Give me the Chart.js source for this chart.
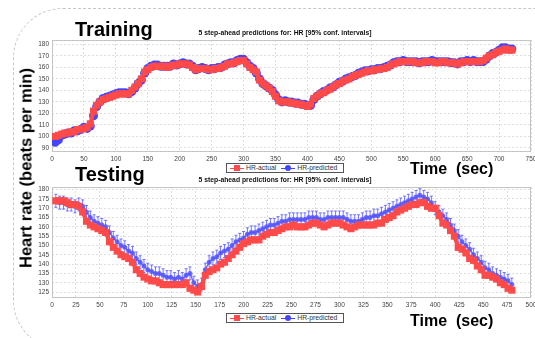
<!DOCTYPE html>
<html>
<head>
<meta charset="utf-8">
<script src="https://cdn.jsdelivr.net/npm/chart.js@4.4.0/dist/chart.umd.min.js"></script>
<style>
  body { margin:0; width:535px; height:338px; overflow:hidden; background:#fff; position:relative;
         font-family:"Liberation Sans", Arial, sans-serif; }
  canvas { position:absolute; left:0; top:0; }
  .frame { position:absolute; left:13px; top:8px; width:580px; height:340px; border:1px dashed #c8c8c8; border-radius:50px; }
  .big { position:absolute; font-weight:bold; font-size:20px; line-height:1; color:#000; white-space:nowrap; }
  .time { position:absolute; left:410px; font-weight:bold; font-size:16px; line-height:1; white-space:nowrap; }
  .ttl { position:absolute; left:135px; width:300px; text-align:center; font-weight:bold; font-size:6.8px; line-height:1; color:#111; }
  .ylab { position:absolute; left:26px; top:168px; transform:translate(-50%,-50%) rotate(-90deg);
          font-weight:bold; font-size:16.5px; white-space:nowrap; }
  .lgd { position:absolute; left:226px; width:116px; height:8px; border:1px solid #555; background:#fff;
         font-size:6.8px; line-height:8px; color:#333; display:flex; align-items:center; }
  .mk { position:relative; display:inline-block; width:14px; height:8px; margin:0 2px 0 3px; }
  .mk .ln { position:absolute; left:0; right:0; top:4px; height:1px; }
  .mk .sq { position:absolute; left:4px; top:1px; width:6px; height:6px; }
  .mk .dot { position:absolute; left:4px; top:1px; width:6px; height:6px; border-radius:50%; }
</style>
</head>
<body>
<div class="frame"></div>
<canvas id="trainChart" width="545" height="338"></canvas>
<canvas id="testChart" width="545" height="338"></canvas>

<div class="big" style="left:75px; top:19px;">Training</div>
<div class="big" style="left:75px; top:164px;">Testing</div>
<div class="ttl" style="top:29.5px;">5 step-ahead predictions for: HR [95% conf. intervals]</div>
<div class="ttl" style="top:176.5px;">5 step-ahead predictions for: HR [95% conf. intervals]</div>
<div class="ylab">Heart rate (beats per min)</div>

<div class="lgd" style="top:163px;">
  <span class="mk"><i class="ln" style="background:#ff4a4a"></i><i class="sq" style="background:#ff4a4a"></i></span>HR-actual
  <span class="mk" style="margin-left:5px"><i class="ln" style="background:#4545ff"></i><i class="dot" style="background:#4545ff"></i></span>HR-predicted
</div>
<div class="lgd" style="top:313px;">
  <span class="mk"><i class="ln" style="background:#ff4a4a"></i><i class="sq" style="background:#ff4a4a"></i></span>HR-actual
  <span class="mk" style="margin-left:5px"><i class="ln" style="background:#4545ff"></i><i class="dot" style="background:#4545ff"></i></span>HR-predicted
</div>
<div class="time" style="top:161px;">Time&nbsp; (sec)</div>
<div class="time" style="top:313px;">Time&nbsp; (sec)</div>

<script>
// training run: one reading every 5 s, starting at t = 5 s
const trainStart = 5, trainStep = 5;
const trainActual = [
  100,101,102,103,103,104,104,106,106,107,
  108,111,122,127,130,132,133,134,135,136,
  137,137,137,137,140,143,146,150,156,158,
  160,161,161,161,161,160,161,162,162,163,
  163,163,162,160,158,159,159,159,158,158,
  159,159,160,161,163,163,164,165,166,166,
  163,160,158,156,149,146,144,142,139,135,
  131,130,130,130,129,129,128,128,127,126,
  128,133,135,137,138,140,141,143,145,146,
  148,149,150,152,153,154,155,156,157,157,
  158,158,159,159,160,162,163,164,165,165,
  165,165,165,164,164,164,165,165,165,164,
  164,165,165,164,164,164,163,164,165,165,
  165,165,165,165,166,168,170,171,173,174,
  175,176,175,175
];
const trainPred = [
  95,97,101,102,103,103,105,105,106,108,
  107,109,118,126,130,133,134,135,136,137,
  138,138,138,137,139,142,146,149,155,159,
  161,162,162,161,161,161,161,163,162,163,
  164,163,163,161,158,159,160,159,158,159,
  159,160,160,162,163,164,164,166,167,167,
  164,161,159,155,150,146,144,142,140,136,
  132,130,131,130,130,129,129,128,128,127,
  127,132,135,137,139,140,142,143,145,147,
  148,150,151,152,153,155,156,157,157,158,
  158,159,159,160,161,162,164,165,165,166,
  165,165,165,165,164,165,165,165,166,165,
  165,165,165,165,164,164,163,165,165,166,
  165,166,165,165,165,167,170,172,173,175,
  177,177,176,176
];

// testing run: one reading every 4 s, starting at t = 4 s
const testStart = 4, testStep = 4;
const testActual = [
  174,174,174,173,172,172,171,168,163,161,
  160,159,158,157,152,149,147,145,144,143,
  141,137,135,133,132,131,131,130,129,129,
  129,129,129,129,130,127,126,125,128,134,
  136,137,138,140,141,143,145,147,149,151,
  152,153,153,153,155,156,157,157,158,159,
  160,160,161,160,160,160,161,162,162,161,
  160,161,162,162,162,161,160,159,160,161,
  161,161,161,161,162,162,164,165,166,168,
  169,170,171,172,172,173,173,171,170,170,
  166,162,161,158,155,149,148,146,143,142,
  139,137,134,134,133,132,130,129,127,126
];
const testPred = [
  174,173,173,172,172,171,172,171,168,165,
  163,162,161,160,157,154,152,150,149,147,
  146,143,141,139,137,136,135,135,134,133,
  133,132,133,132,134,135,130,128,129,137,
  141,143,144,146,147,148,150,152,153,154,
  156,157,157,158,159,160,161,161,162,163,
  163,164,164,164,164,164,165,165,165,164,
  164,165,165,165,165,165,164,163,163,163,
  164,165,165,166,166,167,168,169,170,171,
  172,173,174,175,176,177,176,175,173,170,
  168,166,164,161,158,155,152,150,148,145,
  143,141,138,137,135,134,133,132,131,129
];

// axis ticks
const trainXTicks = [0,50,100,150,200,250,300,350,400,450,500,550,600,650,700,750];
const trainYTicks = [90,100,110,120,130,140,150,160,170,180];
const testXTicks = [0,25,50,75,100,125,150,175,200,225,250,275,300,325,350,375,400,425,450,475,500];
const testYTicks = [125,130,135,140,145,150,155,160,165,170,175,180];

const RED = '#ff4a4a', BLUE = '#4545ff';

const toPoints = (vals, start, step) => vals.map((v, i) => ({ x: start + i * step, y: v }));

// 95% interval bars drawn around the predicted series
const errBars = {
  id: 'errBars',
  afterDatasetDraw(chart, args, opts) {
    if (args.index !== 1) return;
    const ctx = chart.ctx, y = chart.scales.y;
    const data = chart.data.datasets[1].data;
    ctx.save();
    ctx.beginPath();
    ctx.rect(chart.chartArea.left, chart.chartArea.top, chart.chartArea.width, chart.chartArea.height);
    ctx.clip();
    ctx.strokeStyle = opts.color;
    ctx.lineWidth = 1;
    ctx.beginPath();
    args.meta.data.forEach((pt, i) => {
      const y1 = y.getPixelForValue(data[i].y + opts.half);
      const y2 = y.getPixelForValue(data[i].y - opts.half);
      ctx.moveTo(pt.x, y1); ctx.lineTo(pt.x, y2);
      ctx.moveTo(pt.x - opts.cap, y1); ctx.lineTo(pt.x + opts.cap, y1);
      ctx.moveTo(pt.x - opts.cap, y2); ctx.lineTo(pt.x + opts.cap, y2);
    });
    ctx.stroke();
    ctx.restore();
  }
};

// light box round the plot area
const plotFrame = {
  id: 'plotFrame',
  beforeDatasetsDraw(chart) {
    const { ctx, chartArea: a } = chart;
    ctx.save();
    ctx.strokeStyle = '#c4c4c4';
    ctx.lineWidth = 1;
    ctx.strokeRect(a.left + 0.5, a.top + 0.5, a.width - 1, a.height - 1);
    ctx.restore();
  }
};

function makeChart(el, cfg) {
  return new Chart(el, {
    type: 'line',
    data: {
      datasets: [{
        label: 'HR-actual',
        data: cfg.actual,
        borderColor: RED,
        backgroundColor: RED,
        borderWidth: 4,
        pointStyle: 'rect',
        pointRadius: cfg.redSize,
        pointBorderWidth: 0
      }, {
        label: 'HR-predicted',
        data: cfg.pred,
        borderColor: cfg.blue,
        backgroundColor: cfg.blue,
        borderWidth: 1.5,
        pointStyle: 'circle',
        pointRadius: cfg.blueSize,
        pointBorderWidth: 0
      }]
    },
    plugins: [plotFrame, errBars],
    options: {
      responsive: false,
      animation: false,
      layout: { padding: cfg.padding },
      plugins: {
        legend: { display: false },
        tooltip: { enabled: false },
        errBars: cfg.bars
      },
      scales: {
        x: {
          type: 'linear', min: cfg.xMin, max: cfg.xMax,
          afterBuildTicks: s => { s.ticks = cfg.xTicks.map(v => ({ value: v })); },
          afterFit: s => { s.height = 12; },
          grid: { color: '#dedede', drawTicks: false },
          border: { display: false, dash: [2, 2] },
          ticks: { padding: 3, maxRotation: 0, autoSkip: false, color: '#444', font: { size: 6.5, family: 'Liberation Sans' } }
        },
        y: {
          min: cfg.yMin, max: cfg.yMax,
          afterBuildTicks: s => { s.ticks = cfg.yTicks.map(v => ({ value: v })); },
          afterFit: s => { s.width = 52; },
          grid: { color: '#dedede', drawTicks: false },
          border: { display: false, dash: [2, 2] },
          ticks: { padding: 3, autoSkip: false, color: '#444', font: { size: 6.5, family: 'Liberation Sans' } }
        }
      }
    }
  });
}

makeChart(document.getElementById('trainChart'), {
  actual: toPoints(trainActual, trainStart, trainStep),
  pred: toPoints(trainPred, trainStart, trainStep),
  xMin: 0, xMax: 750, yMin: 86.5, yMax: 183.8,
  xTicks: trainXTicks, yTicks: trainYTicks,
  padding: { top: 40, left: 0, right: 14, bottom: 174 },
  redSize: 5, blueSize: 4.5, blue: BLUE,
  bars: { half: 1.5, cap: 1.5, color: BLUE }
});

makeChart(document.getElementById('testChart'), {
  actual: toPoints(testActual, testStart, testStep),
  pred: toPoints(testPred, testStart, testStep),
  xMin: 0, xMax: 500, yMin: 121.8, yMax: 181.4,
  xTicks: testXTicks, yTicks: testYTicks,
  padding: { top: 187, left: 0, right: 14, bottom: 28 },
  redSize: 5, blueSize: 2.5, blue: 'rgba(85,85,255,0.85)',
  bars: { half: 3.5, cap: 1.5, color: 'rgba(85,85,255,0.8)' }
});
</script>
</body>
</html>
